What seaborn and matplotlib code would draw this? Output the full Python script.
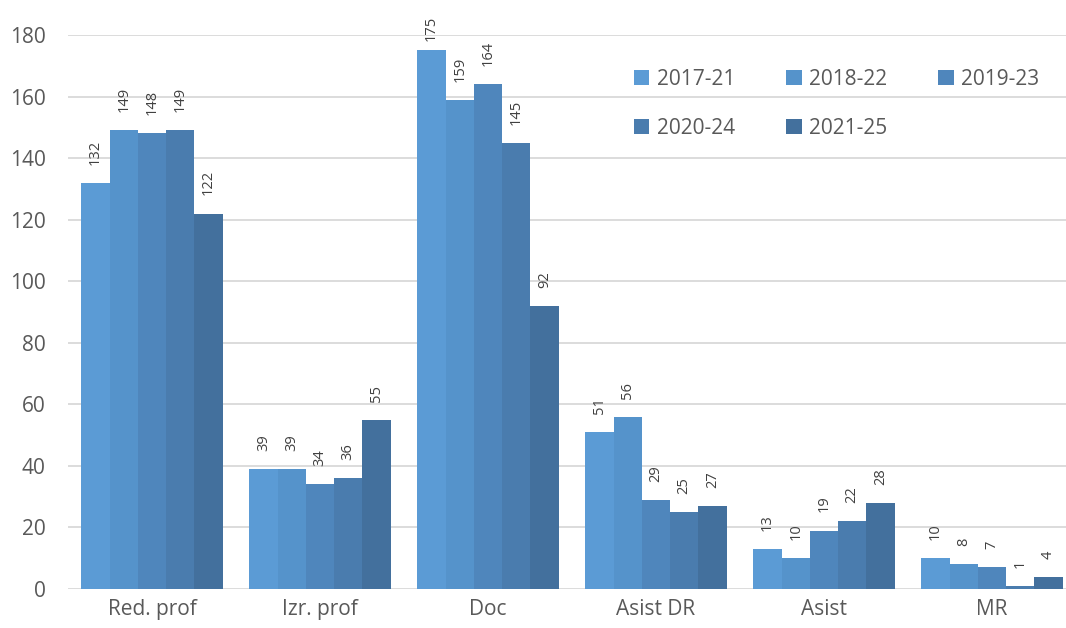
import numpy as np
import pandas as pd
import matplotlib
matplotlib.use("Agg")
import matplotlib.pyplot as plt
import seaborn as sns

# Podaci
categories = ["Red. prof", "Izr. prof", "Doc", "Asist DR", "Asist", "MR"]
periods = ["2017-21", "2018-22", "2019-23", "2020-24", "2021-25"]
v_2017_21 = [132, 39, 175, 51, 13, 10]
v_2018_22 = [149, 39, 159, 56, 10, 8]
v_2019_23 = [148, 34, 164, 29, 19, 7]
v_2020_24 = [149, 36, 145, 25, 22, 1]
v_2021_25 = [122, 55, 92, 27, 28, 4]
colors = ["#5B9BD5", "#5593CB", "#4F86BC", "#4A7CAE", "#43709D"]

series = [v_2017_21, v_2018_22, v_2019_23, v_2020_24, v_2021_25]
df = pd.DataFrame(
    [(c, p, v) for p, vals in zip(periods, series) for c, v in zip(categories, vals)],
    columns=["kat", "period", "broj"],
)

sns.set_theme(style="white")
plt.rcParams["font.family"] = ["Open Sans", "DejaVu Sans"]

fig = plt.figure(figsize=(10.66, 6.28), dpi=100)
ax = fig.add_axes([68 / 1066, 39 / 628, 1008 / 1066, 554 / 628])

sns.barplot(
    data=df, x="kat", y="broj", hue="period", order=categories, hue_order=periods,
    palette=colors, width=0.84, saturation=1, ax=ax, errorbar=None, linewidth=0,
)

# oznake vrijednosti (rotirane), ne smiju izaci iz slike
for cont in ax.containers:
    anns = ax.bar_label(cont, rotation=90, padding=13, fontsize=10.5, color="#404040")
    for a, bar in zip(anns, cont):
        if bar.get_height() > 170:
            a.xyann = (0, 7)

ax.set_ylim(0, 180)
ax.set_yticks(range(0, 181, 20))
ax.set_xlim(-0.5, 5.5)
ax.yaxis.grid(True, color="#D9D9D9", linewidth=1.3)
ax.set_axisbelow(True)
for s in ax.spines.values():
    s.set_visible(False)
ax.tick_params(axis="y", length=0, pad=16, labelsize=15, labelcolor="#595959")
ax.tick_params(axis="x", length=0, pad=7, labelsize=15, labelcolor="#595959")
ax.set_xlabel("")
ax.set_ylabel("")

# legenda red po red (3 + 2)
h, l = ax.get_legend_handles_labels()
order = [0, 3, 1, 4, 2]
ax.legend(
    [h[i] for i in order], [l[i] for i in order],
    loc="upper left", bbox_to_anchor=(615 / 1066, 1 - 50 / 628),
    bbox_transform=fig.transFigure, ncol=3, frameon=False,
    handlelength=0.75, handleheight=0.75, handletextpad=0.35,
    columnspacing=2.45, labelspacing=1.35, fontsize=15,
    labelcolor="#595959",
)

fig.savefig("out.png", dpi=100)
